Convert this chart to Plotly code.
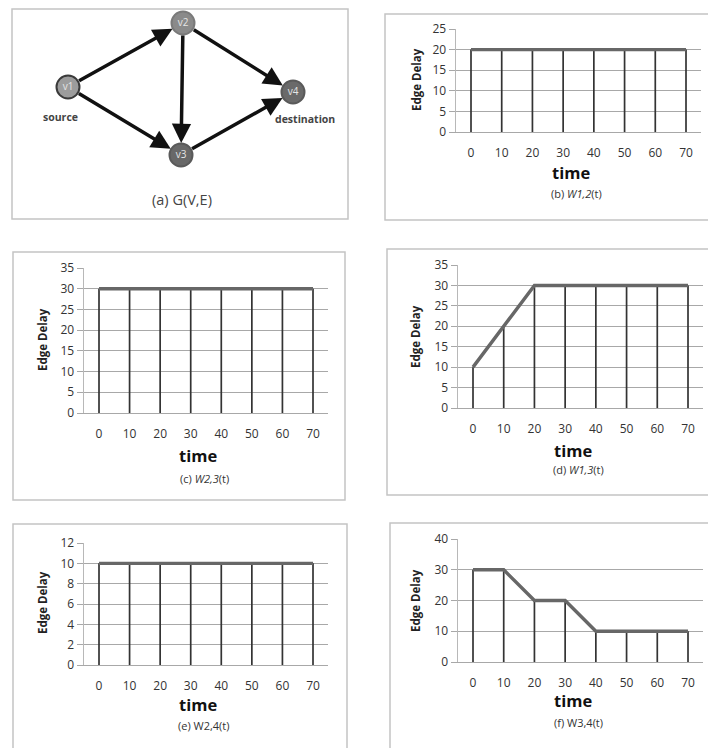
import plotly.graph_objects as go

# ---- data -------------------------------------------------------------
times = [0, 10, 20, 30, 40, 50, 60, 70]
time_labels = ["0", "10", "20", "30", "40", "50", "60", "70"]

w12 = [20, 20, 20, 20, 20, 20, 20, 20]
w23 = [30, 30, 30, 30, 30, 30, 30, 30]
w13 = [10, 20, 30, 30, 30, 30, 30, 30]
w24 = [10, 10, 10, 10, 10, 10, 10, 10]
w34 = [30, 30, 20, 20, 10, 10, 10, 10]

# graph G(V,E)
node_names = ["v1", "v2", "v3", "v4"]
node_x = [68, 183, 181, 293]
node_y = [87, 23, 155, 92]
node_fill = ["#9c9c9c", "#8a8a8a", "#686868", "#6a6a6a"]
node_edge = ["#3a3a3a", "#7a7a7a", "#5a5a5a", "#5a5a5a"]
edges = [("v1", "v2"), ("v1", "v3"), ("v2", "v3"), ("v2", "v4"), ("v3", "v4")]

# ---- layout helpers ---------------------------------------------------
W, H = 708, 748
FONT = "Open Sans"


def px(x):
    return x / W


def py(y):
    return 1 - y / H


def label(text, x, y, size, color="#333333", angle=0):
    return dict(text=text, x=px(x), y=py(y), xref="paper", yref="paper",
                xanchor="center", yanchor="middle", showarrow=False,
                textangle=angle, font=dict(size=size, color=color, family=FONT))


panels = [
    dict(vals=w12, ymax=25, dtick=5, x0=471, x70=686, yb=132, yt=29,
         tag="(b)", name="W1,2(t)", ital=True, box=(385, 14, 712, 220),
         time_y=172, sub_y=194, lab_x=417, lab_y=80),
    dict(vals=w23, ymax=35, dtick=5, x0=99, x70=313, yb=413, yt=268,
         tag="(c)", name="W2,3(t)", ital=True, box=(13, 252, 345, 500),
         time_y=455, sub_y=478, lab_x=42, lab_y=340),
    dict(vals=w13, ymax=35, dtick=5, x0=473, x70=688, yb=408, yt=265,
         tag="(d)", name="W1,3(t)", ital=True, box=(387, 249, 712, 495),
         time_y=450, sub_y=470, lab_x=415, lab_y=336),
    dict(vals=w24, ymax=12, dtick=2, x0=99, x70=313, yb=665, yt=543,
         tag="(e)", name="W2,4(t)", ital=False, box=(13, 524, 347, 752),
         time_y=704, sub_y=725, lab_x=42, lab_y=603),
    dict(vals=w34, ymax=40, dtick=10, x0=473, x70=688, yb=662, yt=539,
         tag="(f)", name="W3,4(t)", ital=False, box=(390, 523, 712, 752),
         time_y=700, sub_y=722, lab_x=415, lab_y=600),
]

fig = go.Figure()
layout = dict(
    width=W, height=H, autosize=False,
    margin=dict(l=0, r=0, t=0, b=0, pad=0),
    paper_bgcolor="white", plot_bgcolor="rgba(0,0,0,0)",
    showlegend=False,
    font=dict(family=FONT, color="#333333"),
)
shapes = []
annotations = []

for i, p in enumerate(panels):
    k = "" if i == 0 else str(i + 1)
    xa, ya = "x" + k, "y" + k
    unit = (p["x70"] - p["x0"]) / 70.0
    left = p["x0"] - 5 * unit
    right = p["x70"] + 5 * unit

    # drop lines from each point down to zero
    dx, dy = [], []
    for t, v in zip(times, p["vals"]):
        dx += [t, t, None]
        dy += [0, v, None]
    fig.add_trace(go.Scatter(x=dx, y=dy, mode="lines", xaxis=xa, yaxis=ya,
                             line=dict(color="#333333", width=1.7),
                             hoverinfo="skip"))
    fig.add_trace(go.Scatter(x=times, y=p["vals"], mode="lines", xaxis=xa, yaxis=ya,
                             line=dict(color="#676767", width=3.4)))

    layout["xaxis" + k] = dict(
        domain=[px(left), px(right)], range=[-5, 75], anchor=ya,
        tickvals=times, ticktext=time_labels, ticks="", showgrid=False,
        zeroline=False, showline=True, linecolor="#a8a8a8", linewidth=1.3,
        tickfont=dict(size=12, color="#333333", family=FONT),
        ticklabelstandoff=9, fixedrange=True, automargin=False,
    )
    layout["yaxis" + k] = dict(
        domain=[py(p["yb"]), py(p["yt"])], range=[0, p["ymax"]], anchor=xa,
        dtick=p["dtick"], tick0=0, ticks="outside", ticklen=6,
        tickcolor="#a8a8a8", tickwidth=1.3,
        showgrid=True, gridcolor="#a8a8a8", gridwidth=1.3,
        zeroline=False, showline=True, linecolor="#b8b8b8", linewidth=1.2,
        tickfont=dict(size=12, color="#333333", family=FONT),
        fixedrange=True, automargin=False,
    )

    bx0, by0, bx1, by1 = p["box"]
    shapes.append(dict(type="rect", xref="paper", yref="paper",
                       x0=px(bx0), x1=px(bx1), y0=py(by1), y1=py(by0),
                       line=dict(color="#c4c4c4", width=1.5), layer="below"))

    cx = (left + right) / 2
    annotations.append(label("<b>time</b>", cx - 8, p["time_y"], 16.5, "#111111"))
    name = "<i>" + p["name"][:4] + "</i>" + p["name"][4:] if p["ital"] else p["name"]
    annotations.append(label(p["tag"] + " " + name, cx - 2, p["sub_y"], 11))
    annotations.append(label("<b>Edge Delay</b>", p["lab_x"], p["lab_y"], 11.5,
                             "#222222", angle=-90))

# ---- panel (a): the graph ----------------------------------------------
shapes.append(dict(type="rect", xref="paper", yref="paper",
                   x0=px(12), x1=px(348), y0=py(219), y1=py(9),
                   line=dict(color="#c4c4c4", width=1.5), layer="below"))

pos = {n: (x, y) for n, x, y in zip(node_names, node_x, node_y)}
for a, b in edges:
    (x0, y0), (x1, y1) = pos[a], pos[b]
    annotations.append(dict(x=x1, y=y1, ax=x0, ay=y0, xref="x6", yref="y6",
                            axref="x6", ayref="y6", text="", showarrow=True,
                            arrowhead=2, arrowsize=1.1, arrowwidth=3.5,
                            arrowcolor="#111111", standoff=12, startstandoff=11))

fig.add_trace(go.Scatter(x=node_x, y=node_y, mode="markers+text", xaxis="x6", yaxis="y6",
                         text=node_names, textposition="middle center",
                         textfont=dict(size=10, color="#e6e6e6", family=FONT),
                         marker=dict(size=23, color=node_fill,
                                     line=dict(color=node_edge, width=2))))
layout["xaxis6"] = dict(domain=[0, 1], range=[0, W], visible=False, fixedrange=True)
layout["yaxis6"] = dict(domain=[0, 1], range=[H, 0], visible=False, fixedrange=True)

annotations.append(label("<b>source</b>", 60, 117, 10.5, "#444444"))
annotations.append(label("<b>destination</b>", 305, 119, 10.5, "#444444"))
annotations.append(label("(a) G(V,E)", 182, 200, 14.5, "#444444"))

layout["shapes"] = shapes
layout["annotations"] = annotations
fig.update_layout(**layout)
fig.write_html("out.html", post_script="document.body.style.margin='0';")
